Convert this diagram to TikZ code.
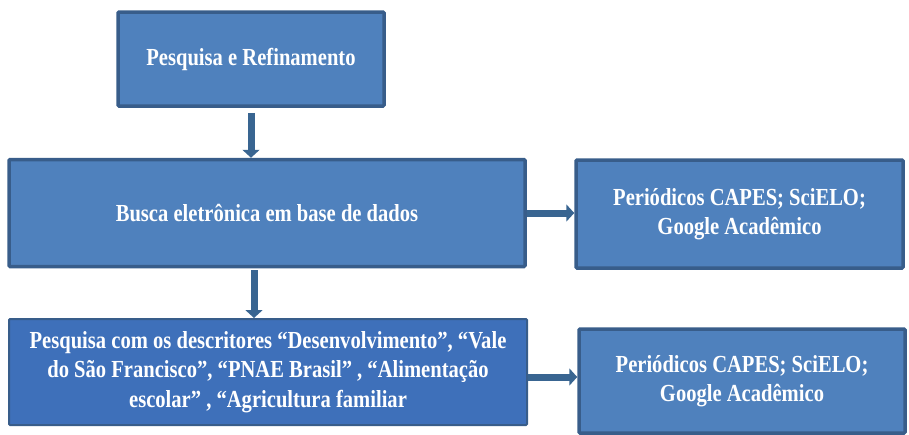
\documentclass[tikz,border=0pt]{standalone}
\usepackage{fontspec}
\setmainfont{Liberation Serif}[FakeStretch=0.84]
\usepackage{tikz}
\usetikzlibrary{positioning, arrows.meta}

\definecolor{boxblue}{HTML}{4F81BD}
\definecolor{boxline}{HTML}{385D8A}
\definecolor{deepblue}{HTML}{3E70BA}
\definecolor{arrowblue}{HTML}{396591}

\tikzset{
  stagebox/.style={draw=boxline, line width=3.5pt, fill=boxblue, text=white,
    align=center, rounded corners=1pt, inner sep=2pt,
    font=\bfseries\fontsize{24.5}{29.5}\selectfont},
  flowarrow/.style={draw=arrowblue, line width=7pt,
    -{Triangle[width=17pt,length=8pt]}}
}

\begin{document}
\begin{tikzpicture}[x=1pt,y=-1pt]
    \useasboundingbox (0,0) rectangle (909,434);

    % Left column
    \node[stagebox, minimum width=266pt, minimum height=94pt] (refine) at (251,59) {Pesquisa e Refinamento};
    \node[stagebox, minimum width=516pt, minimum height=107pt] (search) at (267,213) {Busca eletrônica em base de dados};
    \node[stagebox, fill=deepblue, line width=2pt, minimum width=518pt, minimum height=106pt] (keywords) at (268,372)
      {Pesquisa com os descritores “Desenvolvimento”, “Vale\\ do São Francisco”, “PNAE Brasil” , “Alimentação\\ escolar” , “Agricultura familiar};

    % Right column
    \node[stagebox, minimum width=327pt, minimum height=108pt] (sources) at (739.5,214) {Periódicos CAPES; SciELO;\\ Google Acadêmico};
    \node[stagebox, minimum width=326pt, minimum height=104pt] (sourcesb) at (742,381) {Periódicos CAPES; SciELO;\\ Google Acadêmico};

    % Arrows
    \draw[flowarrow, shorten <=5pt] (refine.south) -- (refine.south |- search.north);
    \draw[flowarrow, shorten <=2pt] ([xshift=-13pt]search.south) -- ([xshift=-13pt]search.south |- keywords.north);
    \draw[flowarrow] (search.east) -- (search.east -| sources.west);
    \draw[flowarrow] ([yshift=-5pt]keywords.east) -- ([yshift=-5pt]keywords.east -| sourcesb.west);

\end{tikzpicture}
\end{document}
